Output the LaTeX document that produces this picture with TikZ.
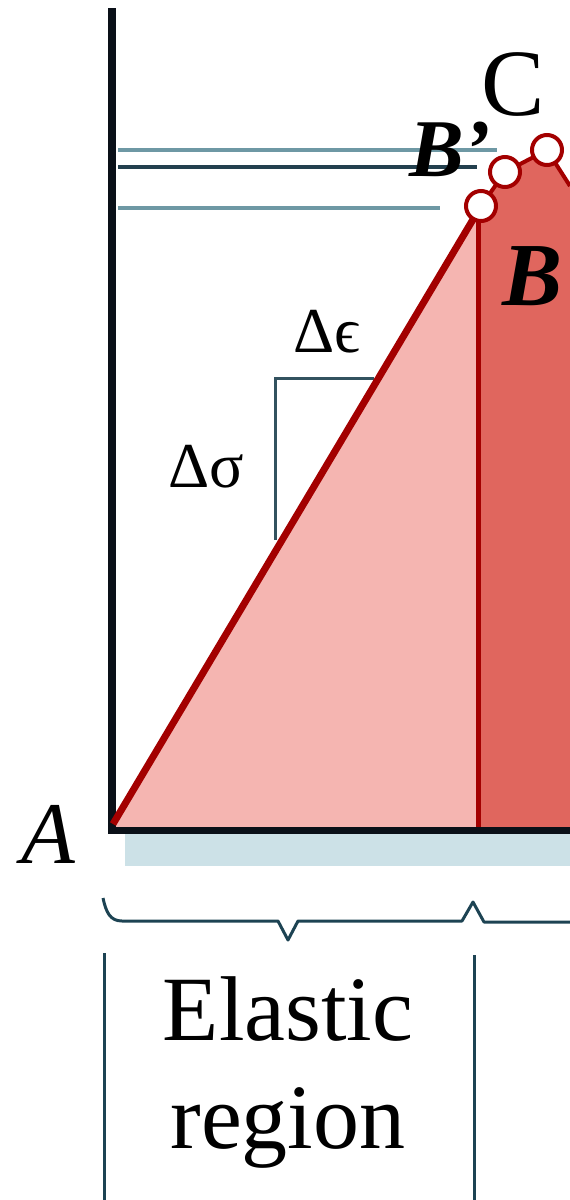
\documentclass[tikz,border=0pt]{standalone}
\usepackage{fontspec}
\setmainfont{Liberation Serif}
\definecolor{redl}{HTML}{A30000}
\definecolor{pinkf}{HTML}{F5B5B1}
\definecolor{darkf}{HTML}{E0665E}
\definecolor{axisc}{HTML}{0A1018}
\definecolor{grayl}{HTML}{6E98A4}
\definecolor{grayd}{HTML}{23404E}
\definecolor{shadowc}{HTML}{CCE1E7}
\definecolor{bracec}{HTML}{1D4353}
\begin{document}
\begin{tikzpicture}[x=1pt,y=-1pt,
  ptc/.style={circle,draw=redl,line width=4pt,fill=white,minimum size=30pt,inner sep=0pt},
  lbl/.style={anchor=base,inner sep=0pt,text=black},
  guide/.style={line width=4pt},
  bracel/.style={draw=bracec,line width=3pt,line join=round},
  axisl/.style={draw=axisc,line width=8pt}]
\useasboundingbox (0,0) rectangle (570,1200);
% shadow band under axis
\fill[shadowc] (125,834) rectangle (570,866);
% key points
\coordinate (A) at (113,824);
\coordinate (Bp) at (481,206);
\coordinate (Bq) at (505,172);
\coordinate (Cp) at (547,150);
\coordinate (E) at (570,186);
\coordinate (F) at (478,828);
% fills
\fill[pinkf] (A) -- (477,207) -- (478,207) -- (F) -- (113,828) -- cycle;
\fill[darkf] (F) -- (478,207) -- (Bp) -- (Bq) -- (Cp) -- (E) -- (570,828) -- cycle;
% guide lines
\draw[guide,grayl] (118,150) -- (497,150);
\draw[guide,grayd] (118,167) -- (477,167);
\draw[guide,grayl] (118,208) -- (440,208);
% axes
\draw[axisl] (112,8) -- (112,834);
\draw[draw=axisc,line width=7pt] (108,830) -- (570,830);
% slope triangle
\coordinate (S1) at (374,378);
\coordinate (S2) at (275,378);
\coordinate (S3) at (275,540);
\draw[line width=3pt,draw=grayd!80!grayl] (S1) -- (S2) -- (S3);
% red curve
\draw[redl,line width=7pt] (A) -- (Bp);
\draw[redl,line width=5pt] (478,220) -- (478,827);
\draw[redl,line width=4pt,line join=round] (Bp) -- (Bq) -- (Cp) -- (E);
% points
\node[ptc] (nB) at (Bp) {};
\node[ptc] (nBq) at (Bq) {};
\node[ptc] (nC) at (Cp) {};
% labels
\node[lbl,font=\fontsize{88}{88}\selectfont\itshape] (lA) at (48,863) {A};
\node[lbl,font=\fontsize{95}{95}\selectfont] (lC) at (513,115) {C};
\node[lbl,font=\fontsize{82}{82}\selectfont\bfseries\itshape] (lBq) at (450,176) {B’};
\node[lbl,font=\fontsize{90}{90}\selectfont\bfseries\itshape] (lB) at (533,305) {B};
\node[lbl,font=\fontsize{64}{64}\selectfont] (lde) at (327,352) {Δϵ};
\node[lbl,font=\fontsize{64}{64}\selectfont] (lds) at (206,487) {Δσ};
% brace
\draw[bracel] (103,898) .. controls (106,912) and (110,921) .. (122,921) -- (278,921) -- (288,940) -- (298,921) -- (462,921) -- (473,902) -- (484,922) -- (570,922);
% bracket verticals
\draw[draw=bracec,line width=3pt] (104,953) -- (104,1200);
\draw[draw=bracec,line width=3pt] (474,955) -- (474,1200);
\node[lbl,font=\fontsize{92}{92}\selectfont] (l1) at (288,1040) {Elastic};
\node[lbl,font=\fontsize{92}{92}\selectfont] (l2) at (288,1148) {region};
\end{tikzpicture}
\end{document}
